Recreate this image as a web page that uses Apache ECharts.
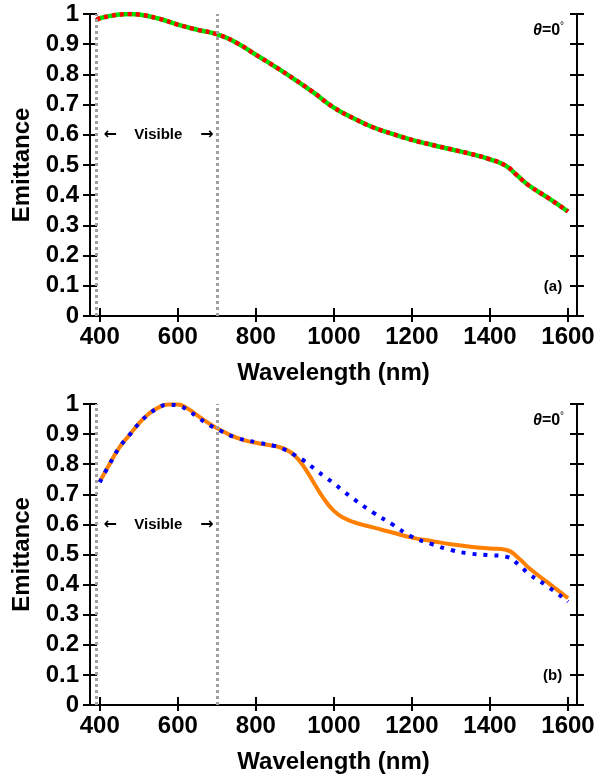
<!DOCTYPE html>
<html>
<head>
<meta charset="utf-8">
<script src="https://cdn.jsdelivr.net/npm/echarts@6/dist/echarts.min.js"></script>
<style>
  html, body { margin: 0; padding: 0; background: #fff; }
  #chart { width: 598px; height: 780px; }
</style>
</head>
<body>
<div id="chart"></div>
<script>
// panel (a)
var wlA = [392, 400, 425, 450, 475, 500, 550, 600, 650, 700, 750, 800, 850, 900, 950, 1000,
    1050, 1100, 1150, 1200, 1250, 1300, 1350, 1400, 1440, 1470, 1500, 1550, 1600];
var emitA = [0.980, 0.986, 0.993, 0.998, 1.0, 0.998, 0.985, 0.965, 0.948, 0.933, 0.905, 0.865,
    0.825, 0.783, 0.738, 0.690, 0.655, 0.625, 0.603, 0.583, 0.567, 0.552, 0.537, 0.519,
    0.498, 0.465, 0.432, 0.390, 0.346];

// panel (b)
var wlB = [400, 425, 450, 475, 500, 525, 550, 575, 600, 625, 650, 675, 700, 750, 800, 850, 875,
    900, 925, 950, 975, 1000, 1025, 1050, 1100, 1150, 1200, 1250, 1300, 1350, 1400, 1440,
    1475, 1500, 1550, 1600];
var emitOrange = [0.742, 0.800, 0.855, 0.895, 0.935, 0.967, 0.988, 0.998, 0.998, 0.985, 0.962,
    0.940, 0.920, 0.888, 0.871, 0.860, 0.850, 0.828, 0.788, 0.735, 0.684, 0.645, 0.622, 0.608,
    0.590, 0.573, 0.556, 0.545, 0.534, 0.526, 0.520, 0.516, 0.486, 0.455, 0.405, 0.355];
var emitBlue = [0.740, 0.800, 0.855, 0.895, 0.935, 0.965, 0.987, 0.998, 0.995, 0.980, 0.957,
    0.935, 0.917, 0.888, 0.873, 0.860, 0.848, 0.830, 0.810, 0.785, 0.760, 0.736, 0.710, 0.685,
    0.640, 0.600, 0.559, 0.535, 0.515, 0.503, 0.498, 0.493, 0.465, 0.435, 0.392, 0.343];

var xTicks = [400, 600, 800, 1000, 1200, 1400, 1600];
var visibleBounds = [390, 700];

var FONT = 'Liberation Sans, Arial, sans-serif';
var black = '#000';

function zip(xs, ys) {
    return xs.map(function (x, i) { return [x, ys[i]]; });
}

var xAxes = [], yAxes = [];
function addFrame(gi) {
    var line = {show: true, lineStyle: {color: black, width: 2}};
    var base = {type: 'value', gridIndex: gi, min: 375, max: 1623, splitLine: {show: false}, axisLine: line};
    // bottom, with labels
    xAxes.push(Object.assign({}, base, {
        position: 'bottom',
        name: 'Wavelength (nm)', nameLocation: 'middle', nameGap: 45,
        nameTextStyle: {fontFamily: FONT, fontWeight: 'bold', fontSize: 24, color: black},
        axisTick: {inside: true, length: 8, lineStyle: {color: black, width: 2}, customValues: xTicks},
        axisLabel: {margin: 9, fontFamily: FONT, fontWeight: 'bold', fontSize: 24, color: black,
            customValues: xTicks, formatter: function (v) { return String(v); }}
    }));
    // top, ticks crossing the line
    [false, true].forEach(function (inside) {
        xAxes.push(Object.assign({}, base, {
            position: 'top',
            axisTick: {inside: inside, length: inside ? 6 : 8, lineStyle: {color: black, width: 2}, customValues: xTicks},
            axisLabel: {show: false}
        }));
    });
    var ybase = {type: 'value', gridIndex: gi, min: 0, max: 1, interval: 0.1, splitLine: {show: false}, axisLine: line};
    ['left', 'right'].forEach(function (pos) {
        [false, true].forEach(function (inside) {
            var ax = Object.assign({}, ybase, {
                position: pos,
                axisTick: {inside: inside, length: 7, lineStyle: {color: black, width: 2}},
                axisLabel: {show: false}
            });
            if (pos === 'left' && !inside) {
                ax.axisLabel = {show: true, margin: 11, fontFamily: FONT, fontWeight: 'bold', fontSize: 24, color: black};
                ax.name = 'Emittance';
                ax.nameLocation = 'middle';
                ax.nameGap = 53;
                ax.nameTextStyle = {fontFamily: FONT, fontWeight: 'bold', fontSize: 24, color: black};
            }
            yAxes.push(ax);
        });
    });
}
addFrame(0);
addFrame(1);

function visibleMarks(gi) {
    return {
        type: 'line', xAxisIndex: gi * 3, yAxisIndex: gi * 4, data: [], z: 1, silent: true,
        markLine: {
            silent: true, symbol: 'none', label: {show: false},
            lineStyle: {color: '#a0a0a0', type: [3, 3], width: 3},
            data: visibleBounds.map(function (v) { return {xAxis: v}; })
        }
    };
}

var chart = echarts.init(document.getElementById('chart'), null, {renderer: 'canvas'});
chart.setOption({
    animation: false,
    backgroundColor: '#fff',
    grid: [
        {left: 90, right: 21, top: 14, height: 302},
        {left: 90, right: 21, top: 404, height: 301}
    ],
    xAxis: xAxes,
    yAxis: yAxes,
    series: [
        visibleMarks(0),
        visibleMarks(1),
        {
            type: 'line', xAxisIndex: 0, yAxisIndex: 0, data: zip(wlA, emitA), smooth: 0.5,
            showSymbol: false, z: 3, lineStyle: {color: '#00e000', width: 4.5}
        },
        {
            type: 'line', xAxisIndex: 0, yAxisIndex: 0, data: zip(wlA, emitA), smooth: 0.5,
            showSymbol: false, z: 4, lineStyle: {color: '#ff0000', width: 4.5, type: [4, 4]}
        },
        {
            type: 'line', xAxisIndex: 3, yAxisIndex: 4, data: zip(wlB, emitOrange), smooth: 0.5,
            showSymbol: false, z: 3, lineStyle: {color: '#ff8000', width: 4}
        },
        {
            type: 'line', xAxisIndex: 3, yAxisIndex: 4, data: zip(wlB, emitBlue), smooth: 0.5,
            showSymbol: false, z: 4, lineStyle: {color: '#0000ff', width: 4, type: [4, 7]}
        }
    ]
});

// annotations placed in data coordinates
var graphics = [];
[0, 1].forEach(function (gi) {
    var finder = {xAxisIndex: gi * 3, yAxisIndex: gi * 4};
    var small = {fontFamily: FONT, fontWeight: 'bold', fontSize: 15, fill: black};
    var arrow = {fontFamily: 'DejaVu Sans, sans-serif', fontWeight: 'bold', fontSize: 16, fill: black};
    var pV = chart.convertToPixel(finder, [550, 0.6]);
    var pL = chart.convertToPixel(finder, [427, 0.6]);
    var pR = chart.convertToPixel(finder, [675, 0.6]);
    graphics.push({type: 'text', x: pV[0], y: pV[1], style: Object.assign({text: 'Visible', align: 'center', verticalAlign: 'middle'}, small)});
    graphics.push({type: 'text', x: pL[0], y: pL[1], style: Object.assign({text: '\u2190', align: 'center', verticalAlign: 'middle'}, arrow)});
    graphics.push({type: 'text', x: pR[0], y: pR[1], style: Object.assign({text: '\u2192', align: 'center', verticalAlign: 'middle'}, arrow)});
    var pT = chart.convertToPixel(finder, [1590, 0.945]);
    graphics.push({type: 'text', x: pT[0], y: pT[1], style: {
        text: '{i|\u03b8}=0{s|\u00b0}', align: 'right', verticalAlign: 'middle',
        fontFamily: FONT, fontWeight: 'bold', fontSize: 16, fill: black,
        rich: {i: {fontStyle: 'italic', fontWeight: 'bold', fontSize: 16, fontFamily: FONT},
               s: {fontSize: 10, verticalAlign: 'top', padding: [0, 0, 8, 0], fontFamily: FONT}}
    }});
    var pA = chart.convertToPixel(finder, [1585, 0.097]);
    graphics.push({type: 'text', x: pA[0], y: pA[1], style: Object.assign({text: gi === 0 ? '(a)' : '(b)', align: 'right', verticalAlign: 'middle'}, small)});
});
chart.setOption({graphic: graphics});
</script>
</body>
</html>
